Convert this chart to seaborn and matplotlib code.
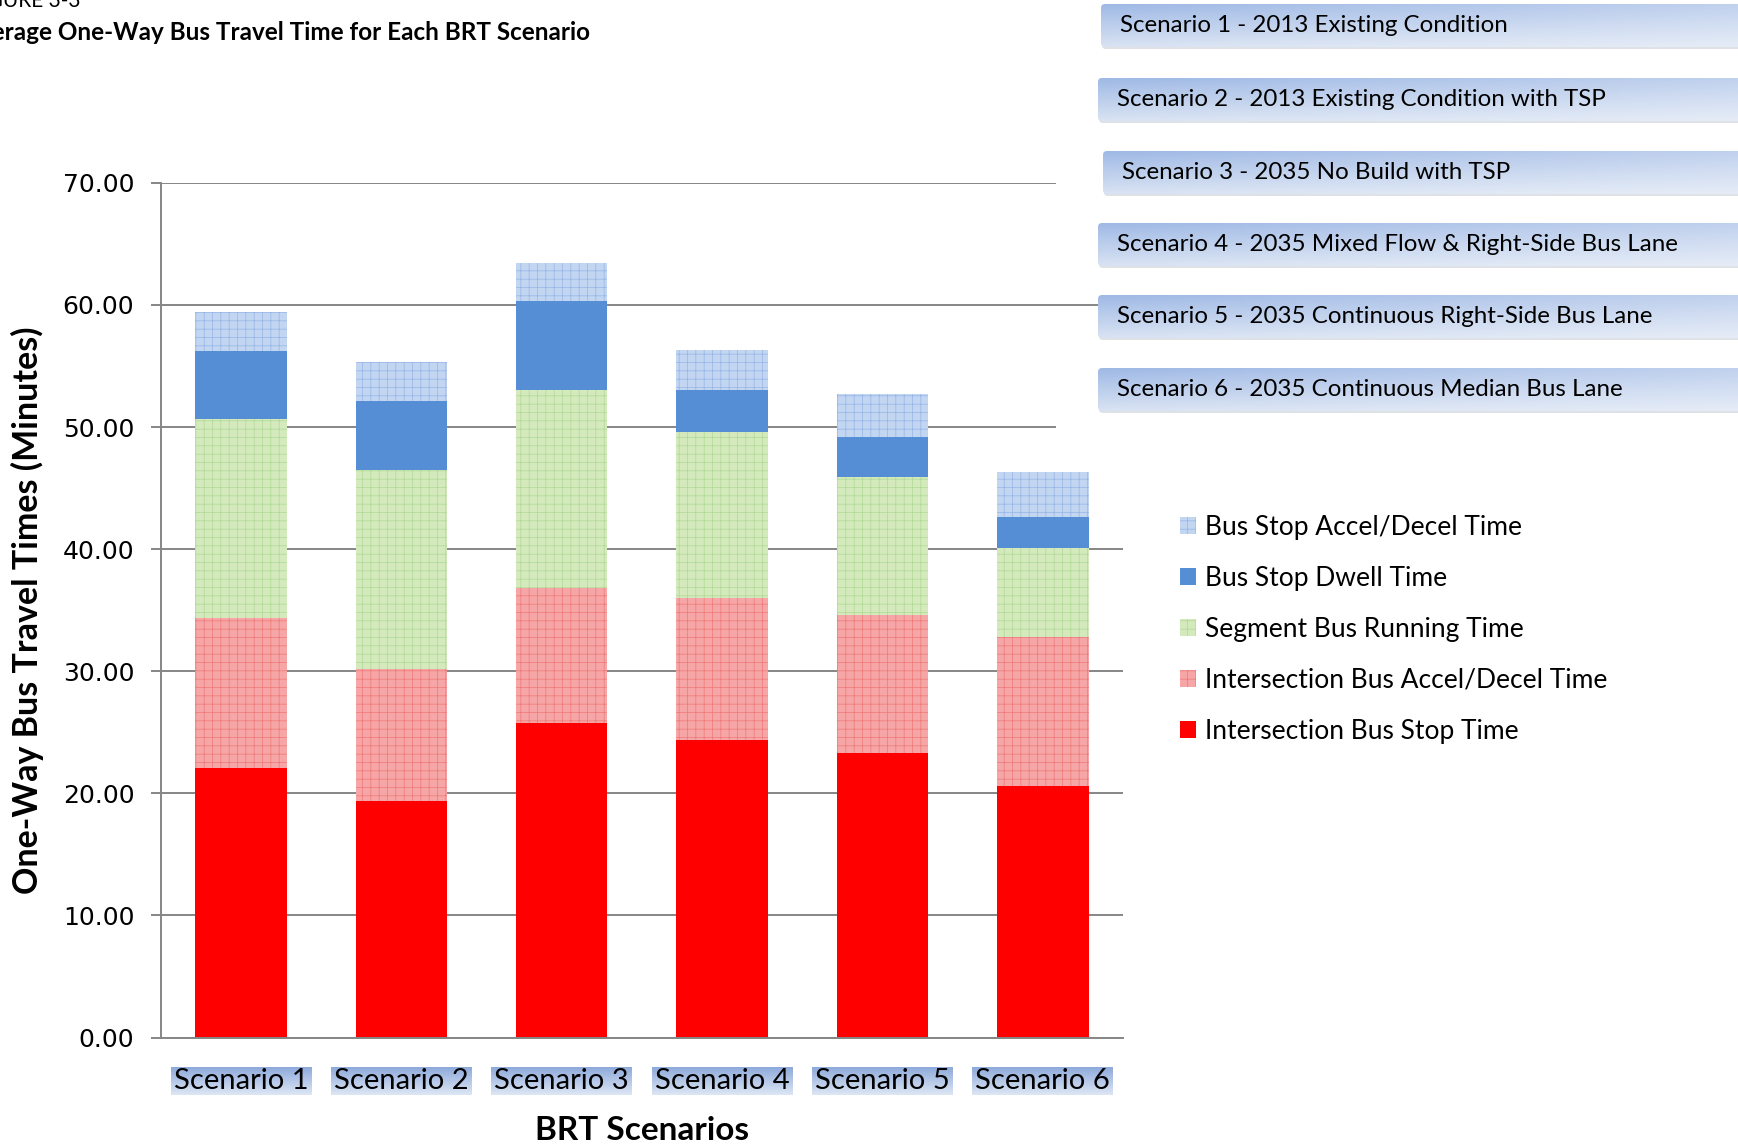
import numpy as np
import matplotlib
matplotlib.use("Agg")
import matplotlib.pyplot as plt
import matplotlib.colors as mcolors
from matplotlib.patches import Patch, FancyBboxPatch, Rectangle
import seaborn as sns

# --- data (minutes) ---
scenarios = ["Scenario 1", "Scenario 2", "Scenario 3", "Scenario 4", "Scenario 5", "Scenario 6"]
scenario_names = [
    "Scenario 1 - 2013 Existing Condition",
    "Scenario 2 - 2013 Existing Condition with TSP",
    "Scenario 3 - 2035 No Build with TSP",
    "Scenario 4 - 2035 Mixed Flow & Right-Side Bus Lane",
    "Scenario 5 - 2035 Continuous Right-Side Bus Lane",
    "Scenario 6 - 2035 Continuous Median Bus Lane",
]
intersection_stop = [22.1, 19.4, 25.8, 24.4, 23.3, 20.6]
intersection_accel = [12.3, 10.8, 11.0, 11.6, 11.3, 12.2]
segment_running = [16.3, 16.3, 16.2, 13.6, 11.3, 7.3]
stop_dwell = [5.5, 5.6, 7.3, 3.4, 3.3, 2.5]
stop_accel = [3.2, 3.2, 3.1, 3.3, 3.5, 3.7]

series_names = ["Intersection Bus Stop Time", "Intersection Bus Accel/Decel Time",
                "Segment Bus Running Time", "Bus Stop Dwell Time", "Bus Stop Accel/Decel Time"]
series_values = [intersection_stop, intersection_accel, segment_running, stop_dwell, stop_accel]

# face colour, hatch colour, hatch
styles = [
    ("#ff0000", "#ff0000", None),
    ("#f6a6a6", "#f07878", "++"),
    ("#d4eabd", "#b0d896", "++"),
    ("#558ed5", "#558ed5", None),
    ("#c2d5f1", "#95b5e6", "++"),
]

W, H = 1738, 1147
plt.rcParams["font.family"] = ["Lato", "DejaVu Sans"]
plt.rcParams["hatch.linewidth"] = 0.5

fig = plt.figure(figsize=(W / 100, H / 100), dpi=100)
fig.patch.set_facecolor("white")

# background overlay (pixel coords) for tick label shading
under = fig.add_axes([0, 0, 1, 1], zorder=-1)
under.axis("off")

ax = fig.add_axes([160.7 / W, 1 - 1037.6 / H, (1123 - 160.7) / W, (1037.6 - 182.9) / H])
ax.patch.set_alpha(0)

# stacked bars: draw cumulative totals from the top layer down
cum = np.cumsum(np.array(series_values), axis=0)
for i in range(len(series_names) - 1, -1, -1):
    fc, hc, hatch = styles[i]
    sns.barplot(x=scenarios, y=cum[i], color=fc, saturation=1, width=0.57,
                errorbar=None, edgecolor=hc, linewidth=0, hatch=hatch, ax=ax)

ax.set_ylim(0, 70)
ax.set_yticks(np.arange(0, 71, 10))
ax.set_yticklabels([f"{v:.2f}" for v in np.arange(0, 71, 10)],
                   fontfamily="DejaVu Sans", fontsize=18)
ax.yaxis.grid(True, color="#868686", lw=1.4)
ax.set_axisbelow(True)
for s in ["top", "right"]:
    ax.spines[s].set_visible(False)
for s in ["left", "bottom"]:
    ax.spines[s].set_color("#868686")
    ax.spines[s].set_linewidth(1.4)
ax.tick_params(axis="y", length=7, width=1.4, color="#868686", pad=12)
ax.tick_params(axis="x", length=0, pad=22, labelsize=21)

ax.set_ylabel("One-Way Bus Travel Times (Minutes)", fontsize=24.5, fontweight="bold")
ax.yaxis.set_label_coords(-0.121, 0.5)
ax.set_xlabel("BRT Scenarios", fontsize=24, fontweight="bold")
ax.xaxis.set_label_coords(0.5, -0.092)

handles = [Patch(facecolor=styles[i][0], edgecolor=styles[i][1], hatch=styles[i][2],
                 linewidth=0, label=series_names[i]) for i in range(len(series_names) - 1, -1, -1)]
ax.legend(handles=handles, loc="upper left", bbox_to_anchor=(1180 / W, 1 - 515 / H),
          bbox_transform=fig.transFigure, frameon=False, fontsize=19, borderaxespad=0,
          borderpad=0, handlelength=0.6, handleheight=0.6, handletextpad=0.35, labelspacing=0.985)

# clipped figure caption, as in the source scan
fig.text(-30 / W, 1 - 7 / H, "FIGURE 3-3", fontsize=15, va="baseline", ha="left")
fig.text(-38 / W, 1 - 33 / H, "Average One-Way Bus Travel Time for Each BRT Scenario",
         fontsize=17.5, fontweight="bold", va="center", ha="left")


def gradient(axo, x0, y0, x1, y1, top, bottom, radius=0, fade=0.0, z=2):
    t = np.linspace(0, 1, 64)[:, None, None]
    s = np.linspace(0, 1, 128)[None, :, None]
    img = np.array(mcolors.to_rgb(top)) * (1 - t) + np.array(mcolors.to_rgb(bottom)) * t
    img = img + (1 - img) * fade * s
    im = axo.imshow(np.clip(img, 0, 1), extent=(x0, x1, y1, y0), aspect="auto",
                    interpolation="bilinear", zorder=z)
    if radius:
        clip = FancyBboxPatch((x0, y0), x1 - x0, y1 - y0,
                              boxstyle=f"round,pad=0,rounding_size={radius}",
                              fc="none", ec="none", transform=axo.transData)
        axo.add_patch(clip)
        im.set_clip_path(clip)


# shaded boxes behind x tick labels
fig.canvas.draw()
for lab in ax.get_xticklabels():
    bb = lab.get_window_extent()
    gradient(under, bb.x0 - 3, H - bb.y1 - 1, bb.x1 + 3, H - bb.y0 + 1, "#8eaadb", "#dde6f4")
under.set_xlim(0, W)
under.set_ylim(H, 0)

# scenario description boxes on the right
over = fig.add_axes([0, 0, 1, 1], zorder=5)
over.axis("off")
box_x = [1101, 1098, 1103, 1098, 1098, 1098]
box_y = [4, 78, 151, 223, 295, 368]
text_x = [1120, 1117, 1122, 1117, 1117, 1117]
over.add_patch(Rectangle((1056, 140), W, 60, fc="white", ec="none", zorder=1))
over.add_patch(Rectangle((1056, 360), W, 80, fc="white", ec="none", zorder=1))
for bx, by, tx, name in zip(box_x, box_y, text_x, scenario_names):
    over.add_patch(FancyBboxPatch((bx + 1, by + 2), W, 43, boxstyle="round,pad=0,rounding_size=4",
                                  fc="#c8cdd6", ec="none", alpha=0.6, zorder=1.5))
    gradient(over, bx, by, W + 10, by + 43, "#9fb9e5", "#d9e3f3", radius=4, fade=0.35)
    over.text(tx, by + 21.5, name, fontsize=17.4, va="center", ha="left", zorder=3)
over.set_xlim(0, W)
over.set_ylim(H, 0)

fig.savefig("out.png", dpi=100)
